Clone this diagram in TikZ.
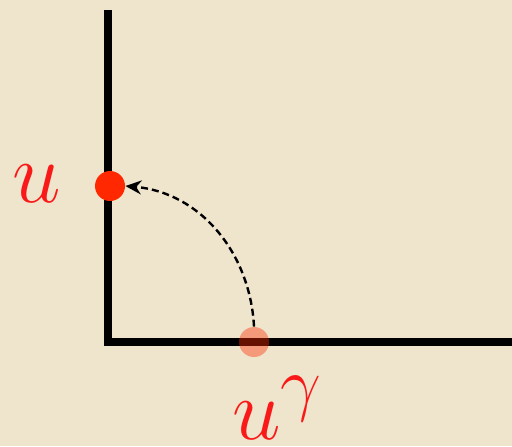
\documentclass[tikz,border=0pt]{standalone}
\usepackage{graphicx}
\usetikzlibrary{arrows.meta}
\definecolor{parchment}{RGB}{238,229,204}
\definecolor{dotred}{RGB}{255,40,0}
\definecolor{labelred}{RGB}{250,25,25}
\newcommand{\biglab}[1]{\scalebox{1.75}{\Huge #1}}
\tikzset{
    axis/.style={line width=4pt, line join=miter},
    dot/.style={circle, inner sep=0pt, minimum size=15pt},
    lab/.style={text=labelred, inner sep=0pt}
}
\begin{document}
\begin{tikzpicture}[x=0.5pt, y=-0.5pt, >={Stealth[length=8pt,width=7pt]}]
    % 1. Background
    \fill[parchment] (0,0) rectangle (512,446);
    \useasboundingbox (0,0) rectangle (512,446);

    % 2. Axes
    \coordinate (top) at (108,10);
    \coordinate (origin) at (108,342);
    \coordinate (right) at (512,342);
    \draw[axis] (top) -- (origin) -- (right);

    % 3. Points
    \node[dot, fill=dotred] (udot) at (110,186) {};
    \node[dot, fill=dotred, fill opacity=0.4] (gdot) at (254,342) {};

    % 4. Labels
    \node[lab] (ulab) at (37,184) {\biglab{$u$}};
    \node[lab, anchor=base west] (glab) at (232,439) {\biglab{$u^\gamma$}};

    % 5. Dashed arrow
    \draw[->, line width=1.2pt, dash pattern=on 3.5pt off 2pt] (gdot.north) to[out=93, in=-5] (udot.east);
\end{tikzpicture}
\end{document}
